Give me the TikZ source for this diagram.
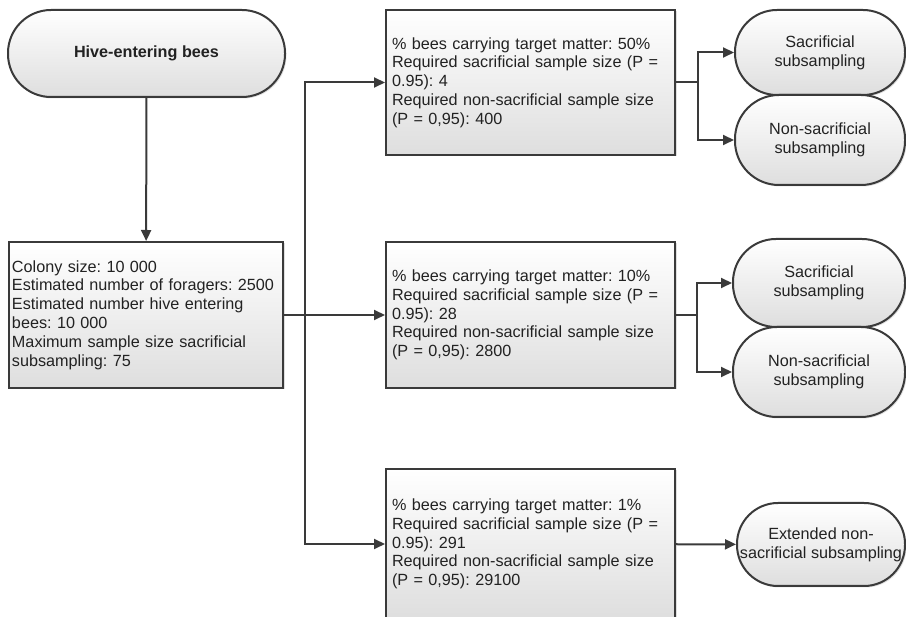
\documentclass[tikz,border=0pt]{standalone}
\usepackage{fontspec}
\setmainfont{Liberation Sans}
\usetikzlibrary{arrows.meta,shadows}

\definecolor{linegray}{HTML}{3A3A3A}
\definecolor{fillgray}{HTML}{DEDEDE}
\definecolor{textgray}{HTML}{222222}

\tikzset{
  base/.style={draw=linegray,line width=2pt,top color=white,bottom color=fillgray,
    drop shadow={shadow xshift=1.5pt,shadow yshift=-1.5pt,opacity=0.25},
    text=textgray,font=\fontsize{16.2}{18.8}\selectfont\frenchspacing},
  terminal/.style={base,rectangle,rounded corners=#1,inner sep=0pt,align=center},
  infobox/.style={base,rectangle,inner xsep=6pt,inner ysep=0pt,align=left,text width=277pt},
  link/.style={draw=linegray,line width=2pt},
  flow/.style={link,-{Triangle[length=11pt,width=10pt]}},
}

\begin{document}
\begin{tikzpicture}[x=1pt,y=-1pt]
\useasboundingbox (0,0) rectangle (906,617);

\node (hive)    at (146.5, 53.5) [terminal=43pt,minimum width=277pt,minimum height=87pt,font=\fontsize{16.2}{18.8}\selectfont\bfseries] {Hive-entering bees};
\node (colony)  at (146.0,315.0) [infobox,text width=268pt,inner xsep=3pt,minimum height=146pt]
  {Colony size: 10 000\\Estimated number of foragers: 2500\\Estimated number hive entering\\bees: 10 000\\Maximum sample size sacrificial\\subsampling: 75};

\node (high)    at (530.5, 82.5) [infobox,minimum height=145pt]
  {\% bees carrying target matter: 50\%\\Required sacrificial sample size (P =\\0.95): 4\\Required non-sacrificial sample size\\(P = 0,95): 400};
\node (mid)     at (530.5,315.0) [infobox,minimum height=146pt]
  {\% bees carrying target matter: 10\%\\Required sacrificial sample size (P =\\0.95): 28\\Required non-sacrificial sample size\\(P = 0,95): 2800};
\node (low)     at (530.5,544.0) [infobox,minimum height=150pt]
  {\% bees carrying target matter: 1\%\\Required sacrificial sample size (P =\\0.95): 291\\Required non-sacrificial sample size\\(P = 0,95): 29100};

\node (highsac) at (820.0, 52.5) [terminal=42pt,minimum width=170pt,minimum height=85pt] {Sacrificial\\subsampling};
\node (highnon) at (820.0,140.0) [terminal=44pt,minimum width=170pt,minimum height=90pt] {Non-sacrificial\\subsampling};
\node (midsac)  at (819.0,283.0) [terminal=43pt,minimum width=172pt,minimum height=88pt] {Sacrificial\\subsampling};
\node (midnon)  at (819.0,372.0) [terminal=44pt,minimum width=172pt,minimum height=90pt] {Non-sacrificial\\subsampling};
\node (lowext)  at (821.0,544.5) [terminal=41pt,minimum width=168pt,minimum height=83pt] {Extended non-\\sacrificial subsampling};

\coordinate (split)    at (305,315.0);
\coordinate (highfork) at (698, 82.5);
\coordinate (midfork)  at (697,315.0);

\draw [flow] (hive) -- (colony);
\draw [link] (colony) -- (split);
\draw [flow] (split) |- (high);
\draw [flow] (split) -- (mid);
\draw [flow] (split) |- (low);

\draw [link] (high) -- (highfork);
\draw [flow] (highfork) |- (highsac);
\draw [flow] (highfork) |- (highnon);
\draw [link] (mid) -- (midfork);
\draw [flow] (midfork) |- (midsac);
\draw [flow] (midfork) |- (midnon);
\draw [flow] (low) -- (lowext);
\end{tikzpicture}
\end{document}
